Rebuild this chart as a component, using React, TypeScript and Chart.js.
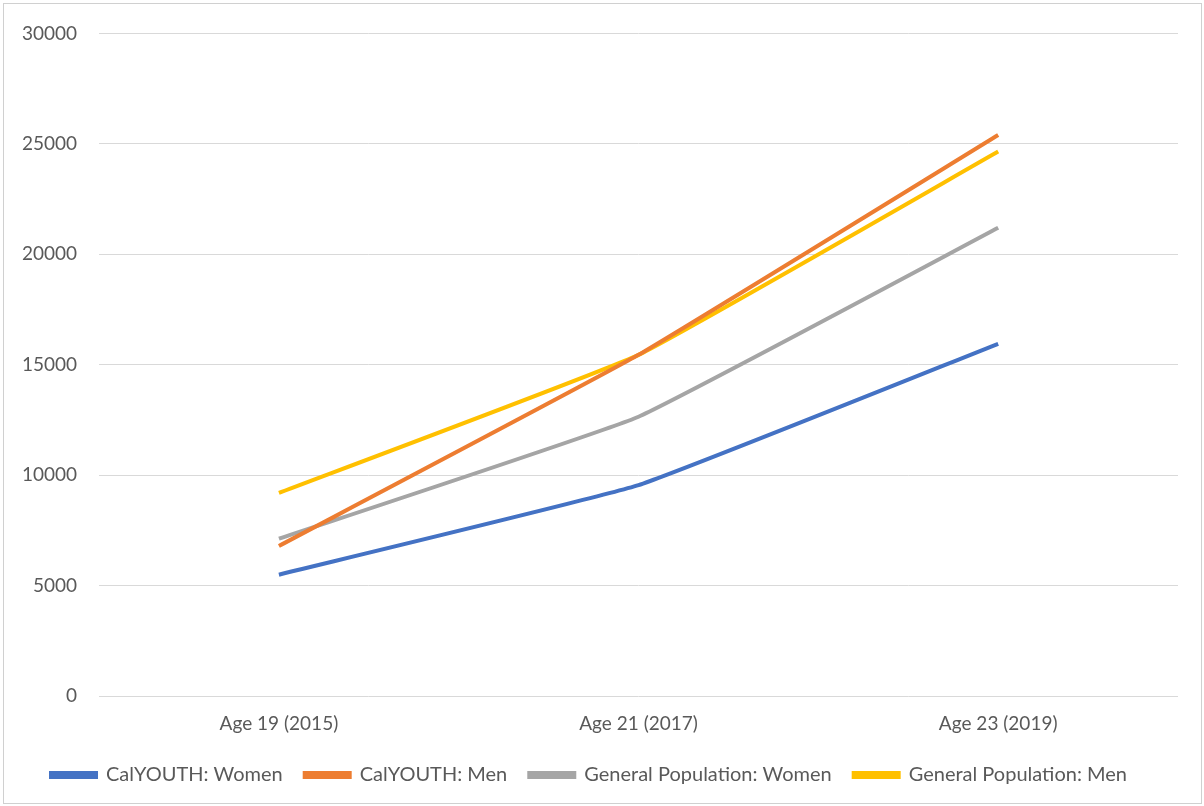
import React, { useEffect, useRef } from "react";
import { Chart, registerables } from "chart.js";

Chart.register(...registerables);

const categories = ["Age 19 (2015)", "Age 21 (2017)", "Age 23 (2019)"];
const calYouthWomen = [5500, 9550, 15950];
const calYouthMen = [6800, 15450, 25400];
const genPopWomen = [7130, 12650, 21200];
const genPopMen = [9200, 15450, 24650];
const yTicks = [0, 5000, 10000, 15000, 20000, 25000, 30000];

export default function App() {
  const ref = useRef<HTMLCanvasElement | null>(null);
  useEffect(() => {
    document.body.style.margin = "0";
    const ctx = ref.current!;
    const mk = (label: string, data: number[], color: string) => ({
      label,
      data,
      borderColor: color,
      backgroundColor: color,
      borderWidth: 4,
      pointRadius: 0,
      tension: 0.1,
      fill: false,
    });
    const font = { family: "Lato", size: 19 };
    const chart = new Chart(ctx, {
      type: "line",
      data: {
        labels: categories,
        datasets: [
          mk("CalYOUTH: Women", calYouthWomen, "#4472C4"),
          mk("CalYOUTH: Men", calYouthMen, "#ED7D31"),
          mk("General Population: Women", genPopWomen, "#A5A5A5"),
          mk("General Population: Men", genPopMen, "#FFC000"),
        ],
      },
      options: {
        animation: false,
        responsive: false,
        layout: { padding: { left: 0, right: 26, top: 9, bottom: 11 } },
        plugins: {
          tooltip: { enabled: false },
          legend: {
            position: "bottom",
            labels: {
              boxWidth: 45,
              boxHeight: 4,
              padding: 22,
              color: "#595959",
              font: { family: "Lato", size: 20 },
            },
          },
        },
        scales: {
          x: {
            offset: true,
            grid: { display: false },
            border: { display: false },
            ticks: { color: "#595959", font, padding: 8 },
          },
          y: {
            min: 0,
            max: 30000,
            afterBuildTicks: (s: any) => {
              s.ticks = yTicks.map((v) => ({ value: v }));
            },
            grid: { color: "#d9d9d9", lineWidth: 1, drawTicks: false },
            border: { display: false },
            ticks: {
              color: "#595959",
              font,
              padding: 22,
              callback: (v: any) => String(v),
            },
          },
        },
      },
    });
    return () => chart.destroy();
  }, []);
  return (
    <div style={{ position: "relative", width: 1204, height: 806, background: "#fff" }}>
      <canvas ref={ref} width={1204} height={806} style={{ display: "block" }} />
      <div
        style={{
          position: "absolute",
          left: 3,
          top: 3,
          width: 1197,
          height: 799,
          border: "1px solid #d0d0d0",
          pointerEvents: "none",
        }}
      />
    </div>
  );
}
